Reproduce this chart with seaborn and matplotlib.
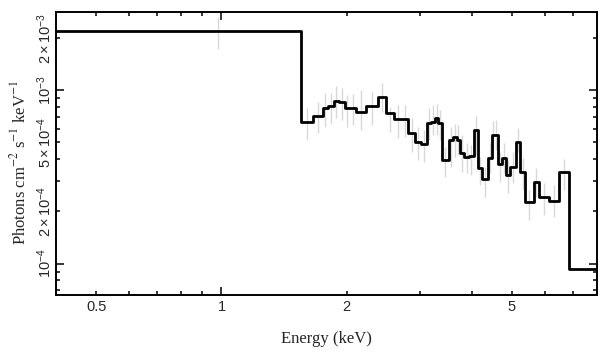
import numpy as np
import pandas as pd
import matplotlib
matplotlib.use("Agg")
import matplotlib.pyplot as plt
import matplotlib.ticker as mticker
import seaborn as sns

# =====================================
# Data
# =====================================

# bin edges in keV
bin_edges = [0.4, 1.558, 1.663, 1.751, 1.808, 1.865, 1.914, 1.979, 2.038, 2.103,
             2.223, 2.376, 2.491, 2.597, 2.707, 2.818, 2.923, 3.017, 3.119, 3.189,
             3.266, 3.328, 3.389, 3.518, 3.603, 3.684, 3.752, 3.836, 3.944, 4.041,
             4.132, 4.232, 4.382, 4.473, 4.548, 4.624, 4.728, 4.834, 4.957, 5.110,
             5.234, 5.381, 5.638, 5.815, 6.127, 6.487, 6.876, 8.0]

# flux per bin (photons cm^-2 s^-1 keV^-1)
flux = [2.185e-3, 6.57e-4, 7.06e-4, 7.85e-4, 8.14e-4, 8.70e-4, 8.53e-4, 7.85e-4,
        7.88e-4, 7.44e-4, 8.12e-4, 9.14e-4, 7.40e-4, 6.81e-4, 6.81e-4, 5.64e-4,
        5.02e-4, 4.87e-4, 6.48e-4, 6.54e-4, 6.93e-4, 6.43e-4, 3.96e-4, 5.19e-4,
        5.38e-4, 5.16e-4, 4.36e-4, 4.13e-4, 4.17e-4, 5.89e-4, 3.54e-4, 3.06e-4,
        4.05e-4, 5.51e-4, 5.51e-4, 3.74e-4, 4.04e-4, 3.24e-4, 3.59e-4, 5.04e-4,
        3.36e-4, 2.28e-4, 2.97e-4, 2.41e-4, 2.31e-4, 3.36e-4, 9.30e-5]

# error bar ends per bin
flux_hi = [2.641e-3, 7.88e-4, 8.53e-4, 9.61e-4, 9.65e-4, 1.054e-3, 1.036e-3, 9.36e-4,
           9.48e-4, 1.0e-3, 9.78e-4, 1.097e-3, 7.99e-4, 8.20e-4, 8.20e-4, 6.90e-4,
           6.13e-4, 5.89e-4, 7.88e-4, 8.20e-4, 8.31e-4, 7.67e-4, 4.72e-4, 6.13e-4,
           6.37e-4, 6.29e-4, 5.51e-4, 4.96e-4, 4.83e-4, 7.09e-4, 4.12e-4, 3.60e-4,
           4.96e-4, 6.63e-4, 6.72e-4, 4.40e-4, 4.96e-4, 3.96e-4, 4.40e-4, 6.05e-4,
           4.06e-4, 2.66e-4, 3.56e-4, 2.92e-4, 2.84e-4, 4.01e-4, np.nan]
flux_lo = [1.738e-3, 5.16e-4, 5.66e-4, 6.13e-4, 6.35e-4, 6.87e-4, 6.72e-4, 6.15e-4,
           6.29e-4, 5.89e-4, 6.29e-4, 7.47e-4, 5.73e-4, 5.29e-4, 5.37e-4, 4.40e-4,
           3.96e-4, 3.85e-4, 5.16e-4, 5.51e-4, 5.51e-4, 5.16e-4, 3.17e-4, 3.60e-4,
           4.12e-4, 4.23e-4, 3.38e-4, 3.33e-4, 3.24e-4, 4.23e-4, 2.84e-4, 2.42e-4,
           3.33e-4, 4.40e-4, 4.52e-4, 2.96e-4, 3.33e-4, 2.56e-4, 2.92e-4, 4.40e-4,
           2.66e-4, 1.79e-4, 2.42e-4, 1.91e-4, 1.86e-4, 2.66e-4, np.nan]

x_ticks = [0.5, 1, 2, 5]
x_tick_labels = ["0.5", "1", "2", "5"]
y_ticks = [1e-4, 2e-4, 5e-4, 1e-3, 2e-3]
y_tick_labels = [r"$10^{-4}$", r"$2\times10^{-4}$", r"$5\times10^{-4}$",
                 r"$10^{-3}$", r"$2\times10^{-3}$"]

# =====================================
# Style
# =====================================

sns.set_style("ticks")
plt.rcParams["font.family"] = ["Liberation Sans", "DejaVu Sans"]
plt.rcParams["mathtext.fontset"] = "custom"
plt.rcParams["mathtext.rm"] = "Liberation Sans"
plt.rcParams["mathtext.it"] = "Liberation Sans:italic"

edges = np.array(bin_edges)
centers = (edges[:-1] + edges[1:]) / 2

df = pd.DataFrame({"energy": edges, "flux": flux + [flux[-1]]})

# =====================================
# Plot
# =====================================

fig, ax = plt.subplots(figsize=(6.09, 3.57), dpi=100)
fig.subplots_adjust(left=0.092, right=0.980, bottom=0.174, top=0.966)

ax.vlines(centers, flux_lo, flux_hi, color="#d8d8d8", lw=1, zorder=1)

sns.lineplot(
    data=df,
    x="energy",
    y="flux",
    drawstyle="steps-post",
    estimator=None,
    color="black",
    lw=2,
    ax=ax,
    zorder=2
)

ax.set_xscale("log")
ax.set_yscale("log")
ax.set_xlim(0.4, 8.0)
ax.set_ylim(6.6e-5, 2.82e-3)

# x ticks: decade major, others minor (labelled ones shown)
ax.xaxis.set_major_locator(mticker.FixedLocator([1]))
ax.xaxis.set_minor_locator(mticker.FixedLocator(
    [0.5, 0.6, 0.7, 0.8, 0.9, 2, 3, 4, 5, 6, 7, 8]))
ax.xaxis.set_major_formatter(mticker.FixedFormatter(["1"]))
ax.xaxis.set_minor_formatter(mticker.FuncFormatter(
    lambda v, p: x_tick_labels[x_ticks.index(v)] if v in x_ticks else ""))

ax.yaxis.set_major_locator(mticker.FixedLocator([1e-4, 1e-3]))
ax.yaxis.set_minor_locator(mticker.FixedLocator(
    [7e-5, 8e-5, 9e-5] + [k * 1e-4 for k in range(2, 10)] + [2e-3]))
ax.yaxis.set_major_formatter(mticker.FixedFormatter([y_tick_labels[0], y_tick_labels[3]]))

minor_y = {2e-4: y_tick_labels[1], 5e-4: y_tick_labels[2], 2e-3: y_tick_labels[4]}


def y_minor_label(v, p):
    for k, lab in minor_y.items():
        if abs(v - k) / k < 1e-6:
            return lab
    return ""


ax.yaxis.set_minor_formatter(mticker.FuncFormatter(y_minor_label))

ax.tick_params(which="both", direction="in", top=True, right=True,
               width=1.1, labelsize=10.5, color="black")
ax.tick_params(which="major", length=6)
ax.tick_params(which="minor", length=3)
ax.tick_params(axis="x", which="both", pad=4)
ax.tick_params(axis="y", which="both", pad=1.5)

for lab in ax.get_yticklabels(which="both"):
    lab.set_rotation(90)
    lab.set_va("center")

for sp in ax.spines.values():
    sp.set_linewidth(1.4)
    sp.set_color("black")

ax.set_xlabel("Energy (keV)", fontfamily="Liberation Serif", fontsize=12,
              labelpad=12)
ax.set_ylabel(r"Photons cm$^{-2}$ s$^{-1}$ keV$^{-1}$", fontfamily="Liberation Serif",
              fontsize=12, math_fontfamily="stix")
ax.yaxis.set_label_coords(-0.05, 0.47)

plt.savefig("out.png", dpi=100)
plt.close()
